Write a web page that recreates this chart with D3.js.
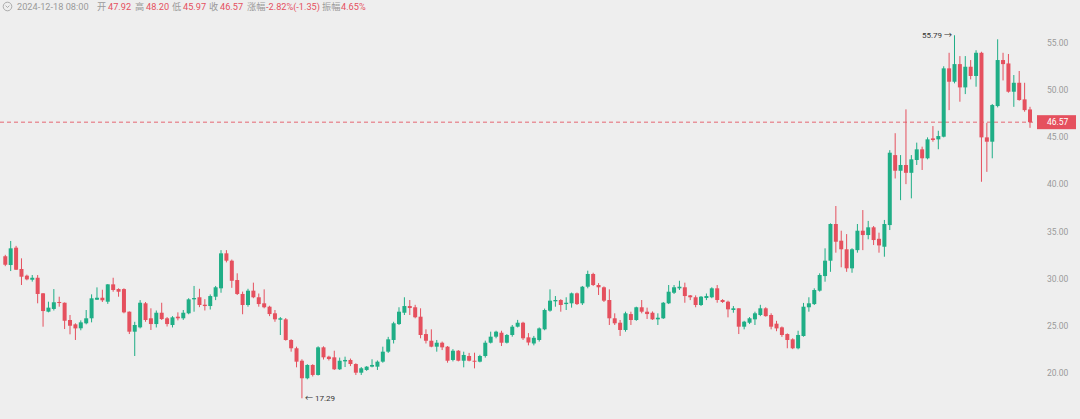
<!DOCTYPE html>
<html><head><meta charset="utf-8">
<script src="https://cdn.jsdelivr.net/npm/d3@7"></script>
<style>html,body{margin:0;padding:0;background:#eeeeee;overflow:hidden}</style>
</head><body>
<script>
// ---- data ----
const opens = [32.35,31.42,33.26,31.0,30.29,29.86,30.07,28.42,26.47,26.76,27.5,27.42,25.59,25.13,24.71,25.24,25.77,27.74,27.95,27.53,
29.37,28.87,28.87,26.47,24.35,24.81,27.36,25.77,25.16,26.36,25.77,25.06,25.94,25.77,26.3,27.78,28.0,27.21,27.07,28.06,
28.95,32.66,31.88,29.83,28.35,27.18,28.7,28.0,27.36,27.0,26.3,25.62,25.66,23.47,22.59,21.27,19.41,20.82,19.76,22.69,
21.7,21.63,20.36,21.2,21.35,20.92,20.0,20.29,20.64,20.64,21.17,22.23,23.47,25.16,26.36,27.07,26.94,25.94,24.1,23.39,
22.76,23.18,22.76,21.35,22.33,21.27,21.77,21.27,21.17,21.77,23.18,23.82,24.24,23.18,24.0,24.88,25.3,23.75,23.1,23.47,
24.6,26.58,27.57,27.71,27.28,27.36,28.42,27.36,29.12,30.47,29.3,29.06,27.71,25.77,25.3,24.53,26.22,25.59,26.94,26.47,
26.36,25.66,25.77,27.36,28.48,28.95,29.06,28.2,28.0,27.18,27.92,28.0,28.95,27.71,27.53,26.65,26.83,24.88,25.3,25.66,
26.12,26.83,26.12,25.2,24.81,24.1,23.54,22.59,23.89,26.94,27.28,28.7,30.25,31.88,35.77,34.0,33.09,31.07,33.0,35.06,
34.6,35.42,34.2,33.36,35.66,43.08,41.42,42.03,41.2,42.56,43.69,42.74,44.85,44.75,45.03,52.28,50.86,52.73,50.26,52.45,
51.47,53.93,44.96,44.5,48.28,53.16,52.8,49.8,50.75,48.99,47.92];
const highs = [32.5,33.97,33.45,32.13,30.4,30.36,30.36,28.45,27.53,28.87,28.06,27.45,26.12,25.24,25.55,26.65,28.31,29.05,28.8,29.4,
30.07,28.95,28.95,26.5,25.4,27.7,27.5,26.83,26.6,27.42,25.9,26.0,26.4,26.65,27.9,29.2,28.9,27.8,28.3,29.2,
33.0,33.0,32.0,30.54,28.6,28.9,29.55,28.4,28.84,27.1,26.65,25.9,25.8,23.55,22.76,21.42,20.9,20.9,22.8,22.8,
21.8,22.33,21.6,21.7,21.5,21.0,20.6,20.7,21.42,21.3,22.76,23.8,25.4,26.94,28.0,27.71,27.2,26.83,24.6,24.6,
23.47,23.3,22.83,22.5,22.4,22.23,22.1,22.12,21.9,23.4,24.35,24.45,24.45,24.1,25.06,25.6,25.4,24.2,23.9,24.8,
26.8,28.84,28.13,27.8,28.0,28.5,28.5,29.2,30.82,30.6,29.5,29.15,28.84,26.3,25.59,26.47,26.47,27.0,27.71,26.9,
26.5,26.3,27.5,29.3,29.3,29.75,29.55,28.24,28.2,28.13,28.4,29.06,29.3,27.8,27.64,27.07,26.83,25.5,25.9,26.47,
27.2,26.94,26.3,25.5,24.9,24.17,23.65,24.45,27.4,28.0,28.95,30.54,33.19,35.84,37.68,35.06,34.7,33.2,35.77,37.25,
36.1,35.56,34.85,36.2,43.6,45.4,43.08,47.93,43.08,44.4,43.97,44.96,46.16,45.66,52.5,53.93,55.79,53.58,53.58,53.16,
54.2,54.04,46.5,48.5,55.36,53.93,53.8,51.57,52.0,50.75,48.20];
const lows = [31.3,30.78,30.9,29.3,29.8,29.66,27.36,24.88,26.4,26.6,27.0,24.63,24.07,23.47,24.5,25.13,25.34,27.71,27.5,27.3,
28.59,28.06,26.3,24.1,21.77,24.7,25.4,24.53,24.8,25.59,24.9,24.8,25.55,25.6,26.2,26.47,26.95,26.6,26.7,27.7,
28.48,31.7,29.0,28.24,26.2,27.0,27.9,27.0,26.83,26.0,25.4,24.0,23.4,22.23,20.57,17.29,19.3,19.6,19.7,21.4,
21.3,20.29,20.29,20.6,20.7,19.76,19.76,20.2,20.57,20.29,21.06,22.1,23.1,25.06,26.12,26.12,25.77,23.65,23.1,22.7,
22.23,22.4,21.06,21.2,21.2,20.57,21.2,20.46,21.1,21.6,23.1,23.65,22.83,23.1,23.82,24.8,23.47,22.9,22.9,23.3,
24.5,26.47,27.0,26.47,26.65,26.9,27.18,27.18,28.95,29.2,28.24,27.5,25.06,25.06,23.9,24.35,25.06,25.5,26.3,25.7,
25.6,25.06,25.7,27.28,28.35,28.77,27.42,27.7,26.94,27.07,27.7,27.9,27.42,27.4,25.87,26.36,24.1,24.6,25.16,25.06,
26.0,25.94,24.6,24.4,23.8,22.59,22.5,22.48,23.82,26.47,27.18,28.6,29.65,30.7,32.73,31.18,30.7,30.6,32.73,33.0,
34.15,33.54,32.73,32.3,35.13,40.6,38.3,40.0,38.49,42.03,41.5,42.63,44.5,43.7,44.96,47.85,50.69,48.74,49.55,51.11,
50.33,40.25,41.3,42.74,48.14,51.0,49.7,48.2,48.85,47.68,45.97];
const closes = [31.45,33.19,30.92,30.18,29.9,30.07,28.35,26.54,26.9,27.47,27.39,25.51,24.98,24.7,25.34,25.77,27.89,27.95,27.68,29.37,
28.77,28.59,26.4,24.35,25.06,27.42,25.59,25.16,26.36,25.69,25.16,25.87,25.77,26.36,27.78,27.92,27.18,27.07,28.13,29.06,
32.66,31.88,29.75,28.35,27.18,28.7,28.0,27.28,26.94,26.22,25.66,25.77,23.47,22.59,21.17,19.41,20.82,19.76,22.69,21.63,
21.45,20.36,21.27,21.35,20.92,20.0,20.47,20.64,20.82,21.17,22.23,23.54,25.24,26.47,27.07,26.86,25.88,24.0,23.39,22.76,
23.18,22.69,21.27,22.33,21.27,21.88,21.27,21.17,21.77,23.18,23.82,24.35,23.18,24.0,24.88,25.3,23.65,23.2,23.7,24.7,
26.65,27.64,27.71,27.18,27.42,28.42,27.28,29.12,30.47,29.3,29.06,27.64,25.77,25.24,24.53,26.3,25.59,26.94,26.47,26.22,
25.66,25.83,27.42,28.59,29.06,29.12,28.13,28.0,27.18,28.06,28.13,28.95,27.71,27.5,26.72,26.83,24.88,25.41,25.77,26.3,
26.83,26.0,24.88,24.7,24.0,23.47,22.59,24.0,27.0,27.36,28.77,30.36,31.88,35.77,33.89,33.09,31.07,33.09,35.06,34.6,
35.42,34.07,33.5,35.77,43.33,41.42,42.03,41.2,42.63,43.69,42.74,44.75,44.68,45.1,52.28,50.86,52.73,50.26,52.45,51.47,
53.93,44.96,44.5,48.39,53.16,52.73,49.8,50.75,48.92,47.85,46.57];
const yTicks = [20,25,30,35,40,45,50,55];
const headerTime = "2024-12-18 08:00";
const headerLabels = ["开","高","低","收","涨幅","振幅"];
const headerValues = ["47.92","48.20","45.97","46.57","-2.82%(-1.35)","4.65%"];
const lastPrice = 46.57;

// ---- layout ----
const W = 1080, H = 419;
const RED = "#e5505e", GREEN = "#1fae86", GRAY = "#9a9a9a";
const data = opens.map((o,i)=>({i, o, h:highs[i], l:lows[i], c:closes[i]}));

const svg = d3.select("body").append("svg").attr("width",W).attr("height",H)
  .style("font-family","Roboto, 'Noto Sans CJK SC', sans-serif");
svg.append("rect").attr("width",W).attr("height",H).attr("fill","#eeeeee");

const x = d3.scaleBand().domain(d3.range(data.length)).range([2.6,1032.7])
  .paddingInner(0.26).paddingOuter(0.13);
const y = d3.scaleLinear().domain([20,55]).range([372.7,42.7]);
const bw = x.bandwidth();
const cx = i => x(i) + bw/2;

// last price dashed line
svg.append("line").attr("x1",0).attr("x2",1036).attr("y1",y(lastPrice)).attr("y2",y(lastPrice))
  .attr("stroke",RED).attr("stroke-width",1).attr("stroke-dasharray","4,3").attr("opacity",0.85);

// candles
const g = svg.append("g");
const cand = g.selectAll("g.c").data(data).join("g").attr("class","c");
cand.append("line")
  .attr("x1",d=>cx(d.i)).attr("x2",d=>cx(d.i))
  .attr("y1",d=>y(d.h)).attr("y2",d=>y(d.l))
  .attr("stroke",d=>d.c>=d.o?GREEN:RED).attr("stroke-width",1);
cand.append("rect")
  .attr("x",d=>x(d.i)).attr("width",bw)
  .attr("y",d=>y(Math.max(d.o,d.c)))
  .attr("height",d=>Math.max(1, Math.abs(y(d.o)-y(d.c))))
  .attr("fill",d=>d.c>=d.o?GREEN:RED);

// right axis
const ax = svg.append("g").attr("transform","translate(1047,0)")
  .call(d3.axisRight(y).tickValues(yTicks).tickFormat(d3.format(".2f")).tickSize(0).tickPadding(0));
ax.select(".domain").remove();
ax.selectAll("text").attr("fill",GRAY).attr("font-size",8.5).attr("font-family","Roboto, sans-serif");

// last price label
svg.append("rect").attr("x",1037).attr("y",y(lastPrice)-7).attr("width",39).attr("height",14).attr("fill",RED);
svg.append("text").attr("x",1047).attr("y",y(lastPrice)).attr("dy","0.34em")
  .attr("fill","#fff").attr("font-size",8.5).text(d3.format(".2f")(lastPrice));

// high / low annotations
const iMax = d3.maxIndex(data, d=>d.h), iMin = d3.minIndex(data, d=>d.l);
svg.append("text").attr("x",cx(iMax)-2.5).attr("y",y(data[iMax].h)).attr("dy","0.35em")
  .attr("text-anchor","end").attr("font-size",8).attr("fill","#333")
  .text(d3.format(".2f")(data[iMax].h)+" \u2192");
svg.append("text").attr("x",cx(iMin)+3).attr("y",y(data[iMin].l)).attr("dy","0.35em")
  .attr("text-anchor","start").attr("font-size",8).attr("fill","#333")
  .text("\u2190 "+d3.format(".2f")(data[iMin].l));

// header
const hdr = svg.append("g").attr("font-size",9.2);
hdr.append("circle").attr("cx",7.5).attr("cy",6.5).attr("r",4.3).attr("fill","none").attr("stroke",GRAY).attr("stroke-width",0.8);
hdr.append("path").attr("d",`M5.6,5.6 L7.5,7.5 L9.4,5.6`).attr("fill","none").attr("stroke",GRAY).attr("stroke-width",0.8);
const baseY = 10;
hdr.append("text").attr("x",17).attr("y",baseY).attr("fill",GRAY).text(headerTime);
const labelX = [97, 135, 172, 209, 247, 322];
const valueX = [108, 146, 183, 220, 266, 341];
headerLabels.forEach((t,k)=>{
  hdr.append("text").attr("x",labelX[k]).attr("y",baseY).attr("fill",GRAY).text(t);
  hdr.append("text").attr("x",valueX[k]).attr("y",baseY).attr("fill",RED).text(headerValues[k]);
});
</script>
</body></html>
